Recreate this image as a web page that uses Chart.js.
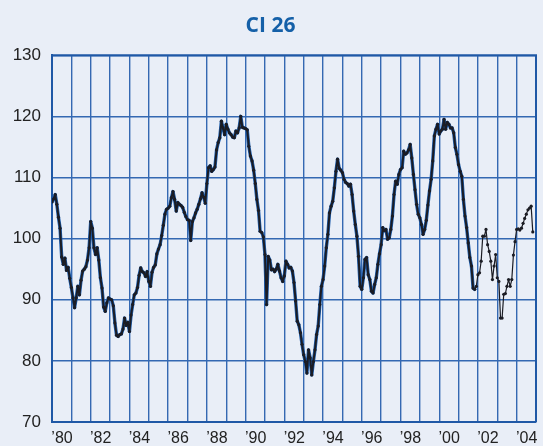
<!DOCTYPE html>
<html>
<head>
<meta charset="utf-8">
<script src="https://cdn.jsdelivr.net/npm/chart.js@4"></script>
<style>
  html, body { margin: 0; padding: 0; background: #e9eef7; }
  #wrap { width: 543px; height: 446px; }
</style>
</head>
<body>
<div id="wrap"><canvas id="c" width="543" height="446"></canvas></div>
<script>
// Monthly values, January 1980 onward
const startYear = 1980;
const ci26 = [
  106.0, 106.5, 107.2, 105.6, 103.5, 101.7, 97.0, 95.8, 96.8, 94.8, 95.3, 93.5,   // 1980
  92.0, 90.3, 88.7, 90.3, 92.2, 90.8, 93.2, 94.7, 95.0, 95.4, 96.5, 98.5,         // 1981
  102.8, 101.7, 98.5, 97.4, 98.5, 96.5, 93.6, 91.9, 88.8, 88.1, 89.5, 90.3,       // 1982
  90.1, 90.0, 89.0, 86.2, 84.2, 84.0, 84.3, 84.4, 85.2, 87.0, 85.8, 86.3,         // 1983
  84.8, 87.5, 89.2, 90.8, 91.1, 92.0, 94.0, 95.2, 94.6, 94.4, 93.8, 94.6,         // 1984
  93.0, 92.2, 94.5, 95.3, 95.7, 97.5, 98.3, 99.0, 100.5, 102.2, 104.0, 104.8,     // 1985
  105.0, 105.3, 106.7, 107.7, 106.4, 104.5, 105.9, 105.6, 105.4, 105.1, 104.3, 103.6, // 1986
  103.1, 103.0, 99.7, 102.8, 103.4, 104.2, 104.8, 105.6, 106.5, 107.5, 106.8, 105.8,  // 1987
  109.0, 111.6, 111.9, 111.0, 111.3, 111.7, 114.5, 115.7, 116.5, 119.2, 118.1, 117.0, // 1988
  118.7, 117.9, 117.3, 117.0, 116.6, 116.5, 117.6, 117.3, 118.1, 120.0, 118.2, 118.1, // 1989
  118.0, 117.8, 115.1, 113.5, 112.7, 111.2, 109.0, 106.4, 104.6, 101.2, 101.0, 100.3, // 1990
  97.4, 89.2, 97.1, 96.5, 94.9, 95.0, 94.6, 95.0, 95.8, 94.7, 93.6, 93.0,         // 1991
  93.9, 96.3, 95.8, 95.2, 95.3, 94.7, 92.8, 89.8, 86.5, 85.9, 84.6, 82.7,         // 1992
  81.0, 79.9, 78.0, 81.8, 80.5, 77.7, 79.9, 81.8, 84.3, 85.7, 89.2, 92.2,         // 1993
  93.3, 95.5, 98.5, 100.7, 104.2, 105.3, 106.1, 108.3, 111.0, 113.0, 111.5, 111.2, // 1994
  110.8, 109.7, 109.2, 109.0, 108.6, 108.9, 107.2, 104.5, 102.3, 100.4, 97.1, 92.2, // 1995
  91.7, 93.6, 96.6, 96.9, 94.1, 93.3, 91.4, 91.1, 92.5, 93.6, 95.8, 97.5,         // 1996
  99.0, 101.8, 101.3, 101.5, 99.9, 100.1, 101.5, 103.7, 107.2, 109.4, 108.9, 110.5, // 1997
  111.3, 111.6, 114.3, 113.8, 114.0, 114.5, 115.4, 113.2, 110.5, 108.0, 105.6, 104.0, // 1998
  103.4, 102.3, 100.7, 101.5, 103.0, 105.5, 107.8, 109.7, 112.7, 116.8, 117.9, 118.7, // 1999
  117.1, 117.6, 117.9, 119.5, 117.9, 119.0, 118.7, 118.1, 118.1, 117.3, 114.9, 113.8, // 2000
  112.1, 111.0, 110.2, 106.4, 103.7, 101.8, 99.3, 96.9, 95.5, 91.9, 91.7, 92.2,   // 2001
  94.1, 94.4, 96.3, 100.4, 100.4, 101.5, 99.0, 97.9, 96.3, 93.3, 95.5, 97.4,      // 2002
  93.6, 93.0, 87.0, 87.0, 90.9, 91.0, 92.2, 93.3, 92.2, 93.3, 97.3, 99.5,         // 2003
  101.5, 101.6, 101.4, 101.7, 102.5, 103.3, 104.0, 104.7, 105.0, 105.3, 101.1     // 2004
];
// number of months covered by the blue series (Jan 1980 - Nov 2001)
const blueMonths = 263;
const xMin = 1980, xMax = 2005;
const yTicks = [70, 80, 90, 100, 110, 120, 130];

const toPoints = arr => arr.map((v, i) => ({ x: startYear + i / 12, y: v }));
const blackPts = toPoints(ci26);
const bluePts = toPoints(ci26.slice(0, blueMonths));
const thinFrom = startYear + (blueMonths - 1) / 12;

const gridBlue = '#3468b2';

new Chart(document.getElementById('c'), {
  type: 'line',
  data: {
    datasets: [
      {
        data: blackPts,
        borderColor: '#1b1c24',
        backgroundColor: '#1b1c24',
        borderWidth: 2,
        borderJoinStyle: 'round',
        borderCapStyle: 'round',
        pointRadius: 1.6,
        pointBorderWidth: 0,
        tension: 0,
        order: 1,
        segment: {
          borderWidth: ctx => (ctx.p0.parsed.x >= thinFrom - 1e-6 ? 1.2 : 2)
        }
      },
      {
        data: bluePts,
        borderColor: '#1d5cab',
        borderWidth: 3.4,
        borderJoinStyle: 'round',
        borderCapStyle: 'round',
        pointRadius: 0,
        tension: 0,
        order: 2
      }
    ]
  },
  options: {
    responsive: false,
    animation: false,
    events: [],
    layout: { padding: { left: 0, right: 2, top: 0, bottom: 0 } },
    plugins: {
      legend: { display: false },
      tooltip: { enabled: false },
      title: {
        display: true,
        text: 'CI 26',
        color: '#1560a8',
        font: { family: "'Open Sans', 'DejaVu Sans', sans-serif", size: 21, weight: 'bold', lineHeight: 1.2 },
        padding: { top: 13, bottom: 17 }
      }
    },
    scales: {
      x: {
        type: 'linear',
        min: xMin,
        max: xMax,
        afterFit: axis => { axis.height = 24; },
        grid: { color: gridBlue, lineWidth: 1.4, drawTicks: false },
        border: { color: '#1f58a6', width: 2 },
        ticks: {
          stepSize: 1,
          autoSkip: false,
          maxRotation: 0,
          padding: 7,
          labelOffset: 10,
          color: '#222',
          font: { family: "'Liberation Sans', Arial, sans-serif", size: 16 },
          callback: v => (Math.round(v) % 2 === 0 && v < xMax ? '\u2019' + String(Math.round(v)).slice(2) : '')
        }
      },
      y: {
        min: yTicks[0],
        max: yTicks[yTicks.length - 1],
        afterFit: axis => { axis.width = 52; },
        afterBuildTicks: axis => { axis.ticks = yTicks.map(v => ({ value: v })); },
        grid: { color: gridBlue, lineWidth: 1.4, drawTicks: false },
        border: { color: '#1f58a6', width: 2 },
        ticks: {
          padding: 11,
          color: '#222',
          font: { family: "'Liberation Sans', Arial, sans-serif", size: 17 }
        }
      }
    }
  },
  plugins: [{
    id: 'bg',
    beforeDraw: chart => {
      const c = chart.ctx;
      c.save();
      c.fillStyle = '#e9eef7';
      c.fillRect(0, 0, chart.width, chart.height);
      c.restore();
    },
    afterDraw: chart => {
      // right and top plot frame
      const a = chart.chartArea, c = chart.ctx;
      c.save();
      c.strokeStyle = '#1f58a6';
      c.lineWidth = 2;
      c.beginPath();
      c.moveTo(a.left, a.top); c.lineTo(a.right, a.top); c.lineTo(a.right, a.bottom);
      c.stroke();
      c.restore();
    }
  }]
});
</script>
</body>
</html>
